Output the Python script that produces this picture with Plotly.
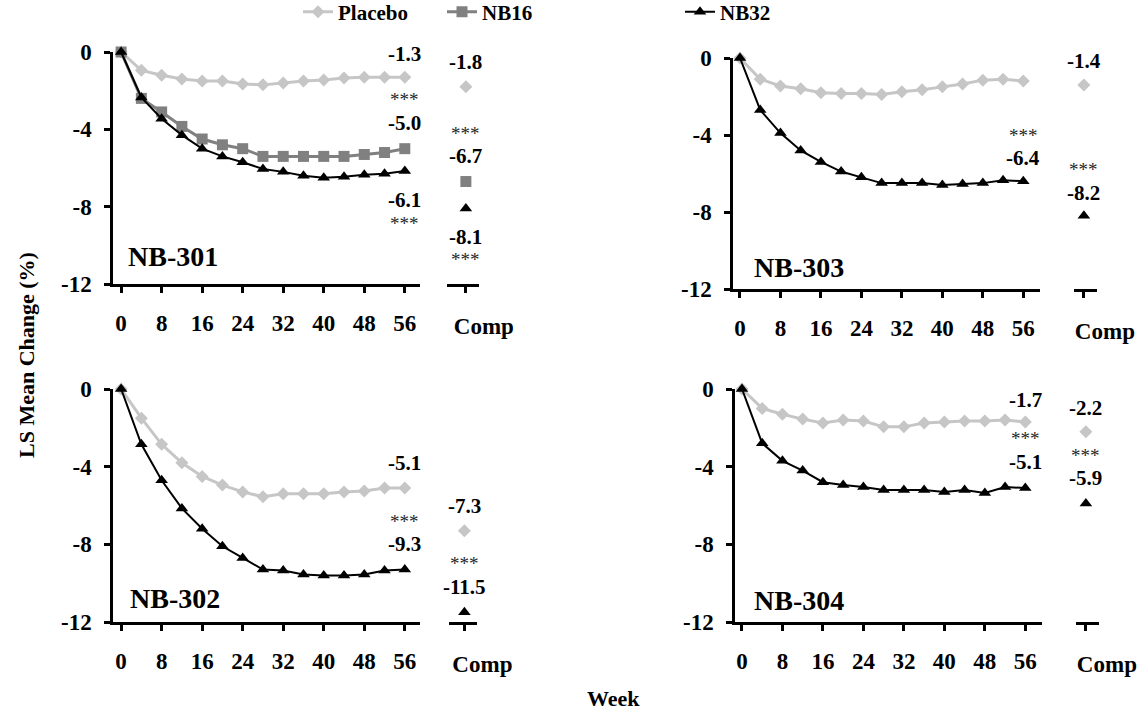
import plotly.graph_objects as go

W, H = 1147, 713
FONT = "Liberation Serif"

weeks = [0, 4, 8, 12, 16, 20, 24, 28, 32, 36, 40, 44, 48, 52, 56]

nb301_placebo = [0, -0.95, -1.2, -1.4, -1.5, -1.5, -1.65, -1.7, -1.6, -1.5, -1.45, -1.35, -1.3, -1.3, -1.3]
nb301_nb16 = [0, -2.4, -3.1, -3.85, -4.5, -4.8, -5.0, -5.4, -5.4, -5.4, -5.4, -5.4, -5.3, -5.2, -5.0]
nb301_nb32 = [0, -2.35, -3.45, -4.3, -5.0, -5.4, -5.7, -6.05, -6.2, -6.4, -6.5, -6.45, -6.35, -6.3, -6.15]

nb303_placebo = [0, -1.1, -1.45, -1.6, -1.8, -1.85, -1.85, -1.9, -1.75, -1.65, -1.5, -1.35, -1.15, -1.1, -1.2]
nb303_nb32 = [0, -2.7, -3.9, -4.8, -5.4, -5.9, -6.2, -6.5, -6.5, -6.5, -6.6, -6.55, -6.5, -6.35, -6.4]

nb302_placebo = [0, -1.5, -2.85, -3.8, -4.5, -4.95, -5.3, -5.55, -5.4, -5.4, -5.4, -5.3, -5.25, -5.1, -5.1]
nb302_nb32 = [0, -2.85, -4.7, -6.15, -7.2, -8.1, -8.7, -9.3, -9.35, -9.55, -9.6, -9.6, -9.55, -9.35, -9.3]

nb304_placebo = [0, -1.0, -1.3, -1.55, -1.75, -1.6, -1.65, -1.95, -1.95, -1.75, -1.7, -1.65, -1.65, -1.6, -1.7]
nb304_nb32 = [0, -2.8, -3.7, -4.2, -4.8, -4.95, -5.05, -5.2, -5.2, -5.2, -5.3, -5.2, -5.35, -5.05, -5.1]

comp_nb301 = {"Placebo": -1.8, "NB16": -6.7, "NB32": -8.1}
comp_nb303 = {"Placebo": -1.4, "NB32": -8.2}
comp_nb302 = {"Placebo": -7.3, "NB32": -11.5}
comp_nb304 = {"Placebo": -2.2, "NB32": -5.9}

studies = ["NB-301", "NB-303", "NB-302", "NB-304"]
y_ticks = [0, -4, -8, -12]
x_ticks = [0, 8, 16, 24, 32, 40, 48, 56]
comp_tick = "Comp"

STYLE = {
    "Placebo": dict(color="#c6c6c6", symbol="diamond", size=10, lw=3),
    "NB16": dict(color="#808080", symbol="square", size=11, lw=3),
    "NB32": dict(color="#000000", symbol="triangle-up", size=11, lw=2),
}
LEGEND_OF = {"Placebo": "legend", "NB16": "legend2", "NB32": "legend3"}

panels = [
    (studies[0], {"Placebo": nb301_placebo, "NB16": nb301_nb16, "NB32": nb301_nb32}, comp_nb301),
    (studies[1], {"Placebo": nb303_placebo, "NB32": nb303_nb32}, comp_nb303),
    (studies[2], {"Placebo": nb302_placebo, "NB32": nb302_nb32}, comp_nb302),
    (studies[3], {"Placebo": nb304_placebo, "NB32": nb304_nb32}, comp_nb304),
]

# geometry (pixels)
geo = [
    dict(main=(113, 420), mrange=[-1.6, 59.0], comp=(447, 479), crange=[-0.59, 0.41], y=(52, 284), cshift=18,
         name=(1.0, -10.6)),
    dict(main=(733, 1040), mrange=[-1.38, 59.3], comp=(1074, 1097), crange=[-0.43, 0.57], y=(58, 289), cshift=21,
         name=(2.4, -10.9)),
    dict(main=(113, 420), mrange=[-1.6, 59.0], comp=(449, 477), crange=[-0.55, 0.45], y=(389, 622), cshift=18,
         name=(1.3, -10.8)),
    dict(main=(735, 1042), mrange=[-1.38, 59.3], comp=(1076, 1099), crange=[-0.43, 0.57], y=(389, 622), cshift=21,
         name=(2.0, -10.9)),
]

# (text, y position) for the end-of-line labels and the Comp labels
labels = [
    ([("-1.3", -0.1), ("***", -2.45), ("-5.0", -3.65), ("-6.1", -7.65), ("***", -8.85)],
     [("-1.8", -0.5), ("***", -4.2), ("-6.7", -5.4), ("-8.1", -9.55), ("***", -10.75)]),
    ([("-1.2", 0.1), ("***", -4.0), ("-6.4", -5.2)],
     [("-1.4", -0.15), ("***", -5.8), ("-8.2", -7.0)]),
    ([("-5.1", -3.8), ("***", -6.8), ("-9.3", -8.0)],
     [("-7.3", -6.0), ("***", -9.0), ("-11.5", -10.2)]),
    ([("-1.7", -0.55), ("***", -2.55), ("-5.1", -3.75)],
     [("-2.2", -1.0), ("***", -3.4), ("-5.9", -4.6)]),
]


def b(s):
    return f"<b>{s}</b>"


fig = go.Figure()
annotations = []
layout = {}
tickfont = dict(family=FONT, size=23, color="black", weight=700)

for i, ((name, series, comp), g, (mlab, clab)) in enumerate(zip(panels, geo, labels)):
    xm = 2 * i + 1
    xc = 2 * i + 2
    yi = i + 1
    xm_ref = "x" if xm == 1 else f"x{xm}"
    xc_ref = f"x{xc}"
    y_ref = "y" if yi == 1 else f"y{yi}"
    for key, vals in series.items():
        st = STYLE[key]
        fig.add_trace(go.Scatter(
            x=weeks, y=vals, mode="lines+markers", name=key,
            line=dict(color=st["color"], width=st["lw"]),
            marker=dict(symbol=st["symbol"], size=st["size"], color=st["color"], line=dict(width=0)),
            xaxis=xm_ref, yaxis=y_ref, cliponaxis=False,
            showlegend=(i == 0), legend=LEGEND_OF[key],
        ))
    for key, v in comp.items():
        st = STYLE[key]
        fig.add_trace(go.Scatter(
            x=[0], y=[v], mode="markers", name=key,
            marker=dict(symbol=st["symbol"], size=st["size"], color=st["color"], line=dict(width=0)),
            xaxis=xc_ref, yaxis=y_ref, cliponaxis=False, showlegend=False,
        ))
    y0, y1 = g["y"]
    ydom = [1 - y1 / H, 1 - y0 / H]
    axline = dict(showline=True, linecolor="black", linewidth=2.5, ticks="outside", ticklen=6,
                  tickwidth=2.5, tickcolor="black", showgrid=False, zeroline=False, automargin=False)
    layout["xaxis" if xm == 1 else f"xaxis{xm}"] = dict(
        domain=[g["main"][0] / W, g["main"][1] / W], range=g["mrange"], anchor=y_ref,
        tickvals=x_ticks, ticktext=[b(t) for t in x_ticks], tickfont=tickfont,
        ticklabelstandoff=11, **axline)
    layout[f"xaxis{xc}"] = dict(
        domain=[g["comp"][0] / W, g["comp"][1] / W], range=g["crange"], anchor=y_ref,
        tickvals=[0], ticktext=[b(comp_tick)], tickfont=tickfont, ticklabelstandoff=14,
        ticklabelshift=g["cshift"], **axline)
    layout["yaxis" if yi == 1 else f"yaxis{yi}"] = dict(
        domain=ydom, range=[-12, 0], anchor=xm_ref, tickvals=y_ticks,
        ticktext=[b(t) for t in y_ticks], tickfont=tickfont,
        ticklabelstandoff=8, **axline)
    annotations.append(dict(text=b(name), x=g["name"][0], y=g["name"][1], xref=xm_ref, yref=y_ref,
                            xanchor="left", yanchor="middle", showarrow=False,
                            font=dict(family=FONT, size=28, color="black", weight=700)))
    for (lab, xpos, xref) in [(mlab, 56, xm_ref), (clab, 0, xc_ref)]:
        for txt, yv in lab:
            star = txt == "***"
            annotations.append(dict(
                text=txt if star else b(txt), x=xpos, y=yv, xref=xref, yref=y_ref,
                showarrow=False, xanchor="center", yanchor="middle",
                font=dict(family=FONT, size=19 if star else 21,
                          color="#262626" if star else "black",
                          weight=400 if star else 700)))

annotations.append(dict(text=b("LS Mean Change (%)"), x=26 / W, y=1 - 355 / H, xref="paper", yref="paper",
                        textangle=-90, showarrow=False, xanchor="center", yanchor="middle",
                        font=dict(family=FONT, size=22, color="black", weight=700)))
annotations.append(dict(text=b("Week"), x=613 / W, y=1 - 698 / H, xref="paper", yref="paper",
                        showarrow=False, xanchor="center", yanchor="middle",
                        font=dict(family=FONT, size=22, color="black", weight=700)))

legfont = dict(family=FONT, size=21, color="black", weight=700)
leg_common = dict(orientation="h", yanchor="middle", xanchor="left", font=legfont,
                  xref="container", yref="container",
                  bgcolor="rgba(0,0,0,0)", itemwidth=30, tracegroupgap=0)
layout["legend"] = dict(x=298 / W, y=1 - 12 / H, **leg_common)
layout["legend2"] = dict(x=442 / W, y=1 - 12 / H, **leg_common)
layout["legend3"] = dict(x=680 / W, y=1 - 12 / H, **leg_common)

fig.update_layout(
    template="none",
    width=W, height=H, margin=dict(l=0, r=0, t=0, b=0, autoexpand=False),
    paper_bgcolor="white", plot_bgcolor="white",
    annotations=annotations, **layout,
)

fig.write_html("out.html")
